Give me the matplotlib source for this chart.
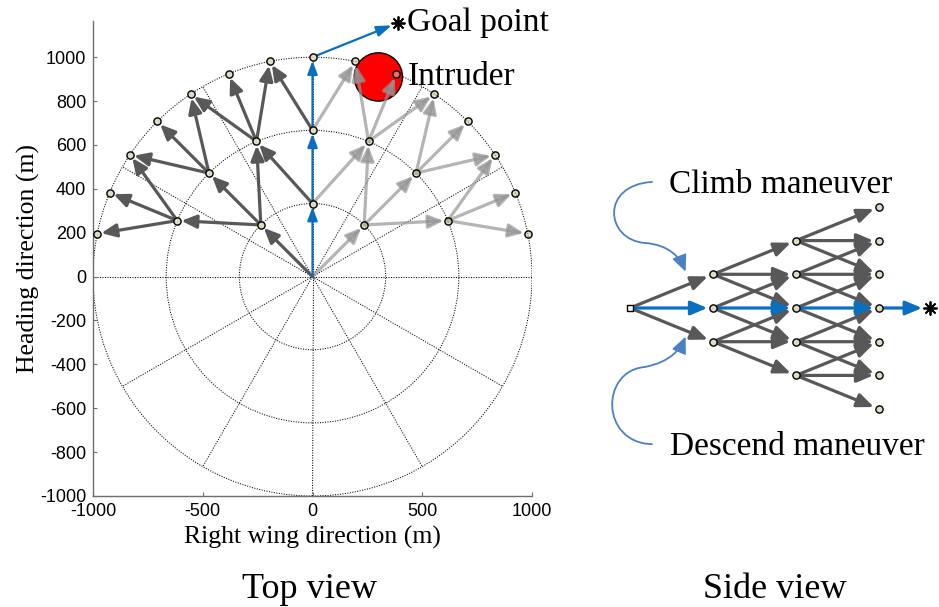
import matplotlib
matplotlib.use("Agg")
import numpy as np
import matplotlib.pyplot as plt
from matplotlib.patches import Circle, FancyArrowPatch
from matplotlib.path import Path

plt.rcParams["axes.unicode_minus"] = False
SERIF = "Liberation Serif"
SANS = "Liberation Sans"

# ---------------- top view: heading search tree ----------------
ring_radius = [333, 667, 1000]
level_headings = [
    [45, 90, 135],
    [22.5, 45, 67.5, 90, 112.5, 135, 157.5],
    [11.25, 22.5, 33.75, 45, 56.25, 67.5, 78.75, 90,
     101.25, 112.5, 123.75, 135, 146.25, 157.5, 168.75],
]
turn_step = [45, 22.5, 11.25]
goal_point = (390, 1157)
intruder_center = (300, 910)
intruder_radius = 110
grid_radius = [333.3, 666.7, 1000]
spoke_angles = [0, 30, 60, 90, 120, 150, 180, 210, 240, 270, 300, 330]
x_ticks = [-1000, -500, 0, 500, 1000]
y_ticks = [-1000, -800, -600, -400, -200, 0, 200, 400, 600, 800, 1000]

# ---------------- side view: altitude search tree ----------------
side_altitudes = [[0], [-1, 0, 1], [-2, -1, 0, 1, 2], [-3, -2, -1, 0, 1, 2, 3]]
side_goal = (3.62, 0)

DARK = "#585858"
LIGHT = (0.58, 0.58, 0.58, 0.69)
BLUE = "#0a6fbf"
CURVE = "#4a80c4"
NODE = (222 / 255, 218 / 255, 195 / 255)
NODE_LIGHT = (205 / 255, 197 / 255, 155 / 255, 0.6)


def arrow(ax, p, q, color, lw, hl, hw, shrink, z):
    ax.annotate("", xy=q, xytext=p, zorder=z,
                arrowprops=dict(arrowstyle=f"-|>,head_length={hl},head_width={hw}",
                                color=color, lw=lw, shrinkA=0, shrinkB=shrink,
                                mutation_scale=1))


def polar(r, deg):
    t = np.deg2rad(deg)
    return (r * np.cos(t), r * np.sin(t))


fig = plt.figure(figsize=(9.39, 6.07), dpi=100)
ax = fig.add_axes([93 / 939, (607 - 496) / 607, 439 / 939, 475 / 607])
ax.set_xlim(-1000, 1000)
ax.set_ylim(-1000, 1165)

# polar grid
dots = (0, (1, 1.4))
for r in grid_radius:
    ax.add_patch(Circle((0, 0), r, fill=False, ec="k", lw=0.75, ls=dots, zorder=1))
for a in spoke_angles:
    x, y = polar(grid_radius[-1], a)
    ax.plot([0, x], [0, y], color="k", lw=0.75, ls=dots, zorder=1)

# intruder
ax.add_patch(Circle(intruder_center, intruder_radius, fc="#ff0000", ec="k",
                    lw=1.0, zorder=2))

# tree edges
nodes_prev = [((0.0, 0.0), 90.0)]
for lvl, headings in enumerate(level_headings):
    r = ring_radius[lvl]
    for h in headings:
        child = polar(r, h)
        for parent, ph in nodes_prev:
            if abs(ph - h) <= turn_step[lvl] + 1e-9:
                if h == 90 and ph == 90:
                    arrow(ax, parent, child, BLUE, 1.6, 8, 3.0, 2.5, 6)
                elif h > 90:
                    arrow(ax, parent, child, DARK, 2.3, 9, 4.0, 3, 5)
                else:
                    arrow(ax, parent, child, LIGHT, 2.3, 9, 4.0, 3, 4)
    nodes_prev = [(polar(r, h), h) for h in headings]

# path to goal
arrow(ax, polar(ring_radius[-1], 90), goal_point, BLUE, 1.6, 9, 3.2, 5, 6)
ax.plot(*goal_point, marker=(8, 2, 0), ms=10, mew=1.3, color="k", zorder=8,
        clip_on=False)
ax.text(goal_point[0] + 40, goal_point[1], "Goal point", fontsize=24,
        family=SERIF, va="center", ha="left", clip_on=False)
ax.text(intruder_center[0] + 135, intruder_center[1], "Intruder", fontsize=24,
        family=SERIF, va="center", ha="left")

# tree nodes
for lvl, headings in enumerate(level_headings):
    for h in headings:
        x, y = polar(ring_radius[lvl], h)
        fc = NODE_LIGHT if h < 90 else NODE
        ax.plot(x, y, "o", ms=5.2, mfc=fc, mec="k", mew=1.0, zorder=7)

for s in ["top", "right"]:
    ax.spines[s].set_visible(False)
for s in ["left", "bottom"]:
    ax.spines[s].set_color("#6e6e6e")
    ax.spines[s].set_linewidth(1.0)
ax.set_xticks(x_ticks)
ax.set_yticks(y_ticks)
ax.tick_params(direction="in", length=3, color="#6e6e6e", labelsize=13, pad=5)
for lab in ax.get_xticklabels() + ax.get_yticklabels():
    lab.set_family(SANS)
ax.set_xlabel("Right wing direction (m)", fontsize=18.5, family=SERIF, labelpad=4)
ax.set_ylabel("Heading direction (m)", fontsize=18.5, family=SERIF, labelpad=0)

# ---------------- side view ----------------
ax2 = fig.add_axes([600 / 939, (607 - 460) / 607, 339 / 939, 300 / 607])
ax2.set_xlim((600 - 630) / 83, (939 - 630) / 83)
ax2.set_ylim((308 - 460) / 33.7, (308 - 160) / 33.7)
ax2.axis("off")

for step in range(1, len(side_altitudes)):
    for alt in side_altitudes[step]:
        for palt in side_altitudes[step - 1]:
            if abs(palt - alt) <= 1:
                if alt == 0 and palt == 0:
                    arrow(ax2, (step - 1, palt), (step, alt), BLUE, 2.3, 10, 4.2, 4, 6)
                else:
                    arrow(ax2, (step - 1, palt), (step, alt), DARK, 2.3, 10, 4.2, 4, 5)
last = len(side_altitudes) - 1
arrow(ax2, (last, 0), side_goal, BLUE, 2.3, 10, 4.2, 6, 6)
ax2.plot(*side_goal, marker=(8, 2, 0), ms=10, mew=1.3, color="k", zorder=8)

for step in range(1, len(side_altitudes)):
    for alt in side_altitudes[step]:
        ax2.plot(step, alt, "o", ms=5.2, mfc=NODE, mec="k", mew=1.0, zorder=7)
ax2.plot(0, 0, "s", ms=5, mfc="white", mec="k", mew=1.0, zorder=7)

# maneuver callouts
climb_path = Path([(0.265, 3.74), (-0.36, 3.65), (-0.30, 2.02), (0.18, 1.93),
                   (0.48, 1.87), (0.60, 1.50), (0.67, 1.08)],
                  [Path.MOVETO, Path.CURVE4, Path.CURVE4, Path.CURVE4,
                   Path.CURVE4, Path.CURVE4, Path.CURVE4])
descend_path = Path([(0.265, -4.04), (-0.36, -4.0), (-0.36, -1.86), (0.18, -1.75),
                     (0.48, -1.60), (0.60, -1.25), (0.67, -0.85)],
                    [Path.MOVETO, Path.CURVE4, Path.CURVE4, Path.CURVE4,
                     Path.CURVE4, Path.CURVE4, Path.CURVE4])
for p in (climb_path, descend_path):
    ax2.add_patch(FancyArrowPatch(path=p, arrowstyle="-|>,head_length=10,head_width=4.5",
                                  mutation_scale=1, color=CURVE, lw=1.3,
                                  transform=ax2.transData, zorder=4))

ax2.text(1.81, 3.65, "Climb maneuver", fontsize=24, family=SERIF,
         ha="center", va="center")
ax2.text(2.02, -4.12, "Descend maneuver", fontsize=24, family=SERIF,
         ha="center", va="center")

fig.text(310 / 939, 1 - 598 / 607, "Top view", fontsize=26, family=SERIF,
         ha="center", va="baseline")
fig.text(775 / 939, 1 - 598 / 607, "Side view", fontsize=26, family=SERIF,
         ha="center", va="baseline")

fig.savefig("out.png", dpi=100)
